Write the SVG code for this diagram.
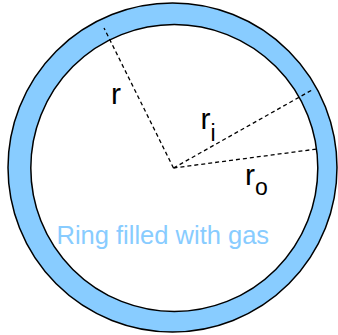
<svg xmlns="http://www.w3.org/2000/svg" width="338" height="335" viewBox="0 0 338 335">
<style>
.ring{stroke:#000;stroke-width:1.5}
.lbl{font-family:"Liberation Sans",Arial,sans-serif;fill:#000}
.dash{fill:none;stroke:#000;stroke-width:1.3;stroke-dasharray:4 3}
</style>
<rect width="338" height="335" fill="#fff"/>
<g id="ring">
<circle class="ring" cx="172.5" cy="167.5" r="164.5" fill="#88CCFF"/>
<circle class="ring" cx="174.3" cy="168" r="143.5" fill="#fff"/>
</g>
<g id="connectors">
<line class="dash" x1="173.5" y1="168" x2="104" y2="28"/>
<line class="dash" x1="173.5" y1="168" x2="312" y2="90"/>
<line class="dash" x1="173.5" y1="168" x2="317" y2="149"/>
</g>
<g id="label-r"><text class="lbl" x="111" y="103.5" font-size="30">r</text></g>
<g id="label-ri"><text class="lbl" x="200.5" y="129" font-size="30">r</text><text class="lbl" x="210.5" y="141" font-size="23">i</text></g>
<g id="label-ro"><text class="lbl" x="245" y="185" font-size="30">r</text><text class="lbl" x="255" y="195.3" font-size="23">o</text></g>
<g id="label-gas"><text x="56.5" y="244.3" font-size="25.5" font-family="Liberation Sans,Arial,sans-serif" fill="#88CCFF">Ring filled with gas</text></g>
</svg>
